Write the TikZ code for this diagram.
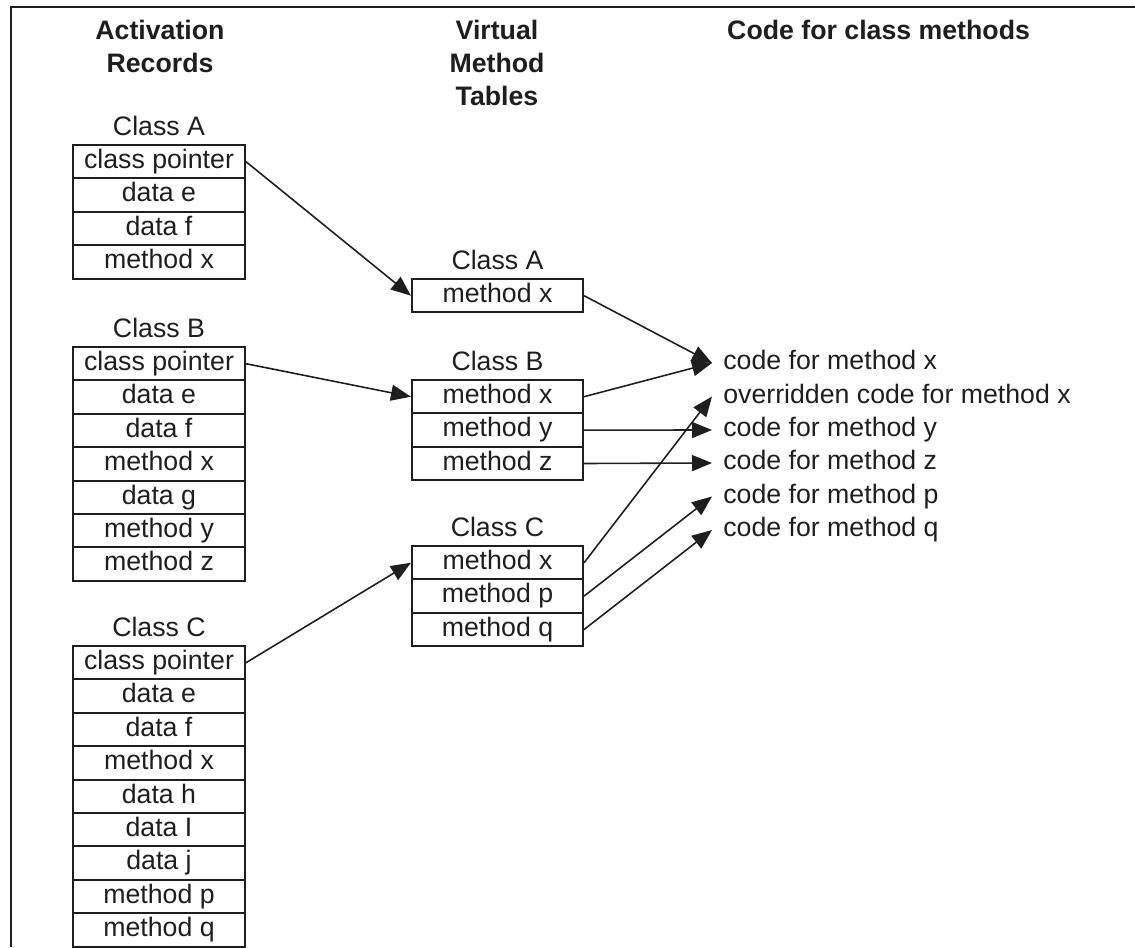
\documentclass[tikz,border=0pt]{standalone}
\usepackage{fontspec}
\setmainfont{Liberation Sans}
\usetikzlibrary{arrows.meta}
\definecolor{ink}{HTML}{1E1E1E}

\tikzset{
  cell/.style={draw=ink,line width=1.2pt,minimum height=0.668cm,inner sep=0pt,text height=11pt,text depth=3.2pt,font=\fontsize{15.2}{18}\selectfont,text=ink},
  arcell/.style={cell,minimum width=3.44cm},
  vmtcell/.style={cell,minimum width=3.42cm},
  lbl/.style={font=\fontsize{15.2}{18}\selectfont,text height=11pt,text depth=3.2pt,text=ink},
  hdr/.style={font=\fontsize{15.2}{18.8}\selectfont\bfseries,align=center,text=ink},
  ptr/.style={draw=ink,line width=0.9pt,-{Triangle[length=0.4cm,width=0.32cm]}}
}

\begin{document}
\begin{tikzpicture}[x=0.02cm,y=-0.02cm]
\useasboundingbox (0,0) rectangle (1135,947);
% frame
\draw[ink,line width=1.1pt] (1135,7) -- (11,7) -- (11,947);

% headers
\node[hdr] (harec) at (160,46.5) {Activation\\Records};
\node[hdr] (hvmt) at (497,63) {Virtual\\Method\\Tables};
\node[hdr,anchor=west] (hcode) at (721,30) {Code for class methods};

% activation records
\node[lbl] (arAlbl) at (159,128.3) {Class A};
\foreach \lab [count=\i] in {class pointer,data e,data f,method x}
  \node[arcell] (arA\i) at (159,128.3+\i*33.4) {\lab};
\node[lbl] (arBlbl) at (159,330.3) {Class B};
\foreach \lab [count=\i] in {class pointer,data e,data f,method x,data g,method y,method z}
  \node[arcell] (arB\i) at (159,330.3+\i*33.4) {\lab};
\node[lbl] (arClbl) at (159,629.3) {Class C};
\foreach \lab [count=\i] in {class pointer,data e,data f,method x,data h,data I,data j,method p,method q}
  \node[arcell] (arC\i) at (159,629.3+\i*33.4) {\lab};

% virtual method tables
\node[lbl] (vmtAlbl) at (497.5,262.3) {Class A};
\node[vmtcell] (vmtA1) at (497.5,295.7) {method x};
\node[lbl] (vmtBlbl) at (497.5,363.3) {Class B};
\foreach \lab [count=\i] in {method x,method y,method z}
  \node[vmtcell] (vmtB\i) at (497.5,363.3+\i*33.4) {\lab};
\node[lbl] (vmtClbl) at (497.5,529.3) {Class C};
\foreach \lab [count=\i] in {method x,method p,method q}
  \node[vmtcell] (vmtC\i) at (497.5,529.3+\i*33.4) {\lab};

% code for class methods
\foreach \nm/\lab/\y in {cx/code for method x/363,cox/overridden code for method x/396.5,
    cy/code for method y/430,cz/code for method z/463,cp/code for method p/496.5,cq/code for method q/530}
  \node[lbl,anchor=west,inner xsep=0.22cm,inner ysep=2pt] (\nm) at (712,\y) {\lab};

% pointers
\foreach \a/\b in {arA1/vmtA1,arB1/vmtB1,arC1/vmtC1,vmtA1/cx,vmtB1/cx,vmtB2/cy,
    vmtB3/cz,vmtC1/cox,vmtC2/cp,vmtC3/cq}
  \draw[ptr] (\a.east) -- (\b.west);
\end{tikzpicture}
\end{document}
